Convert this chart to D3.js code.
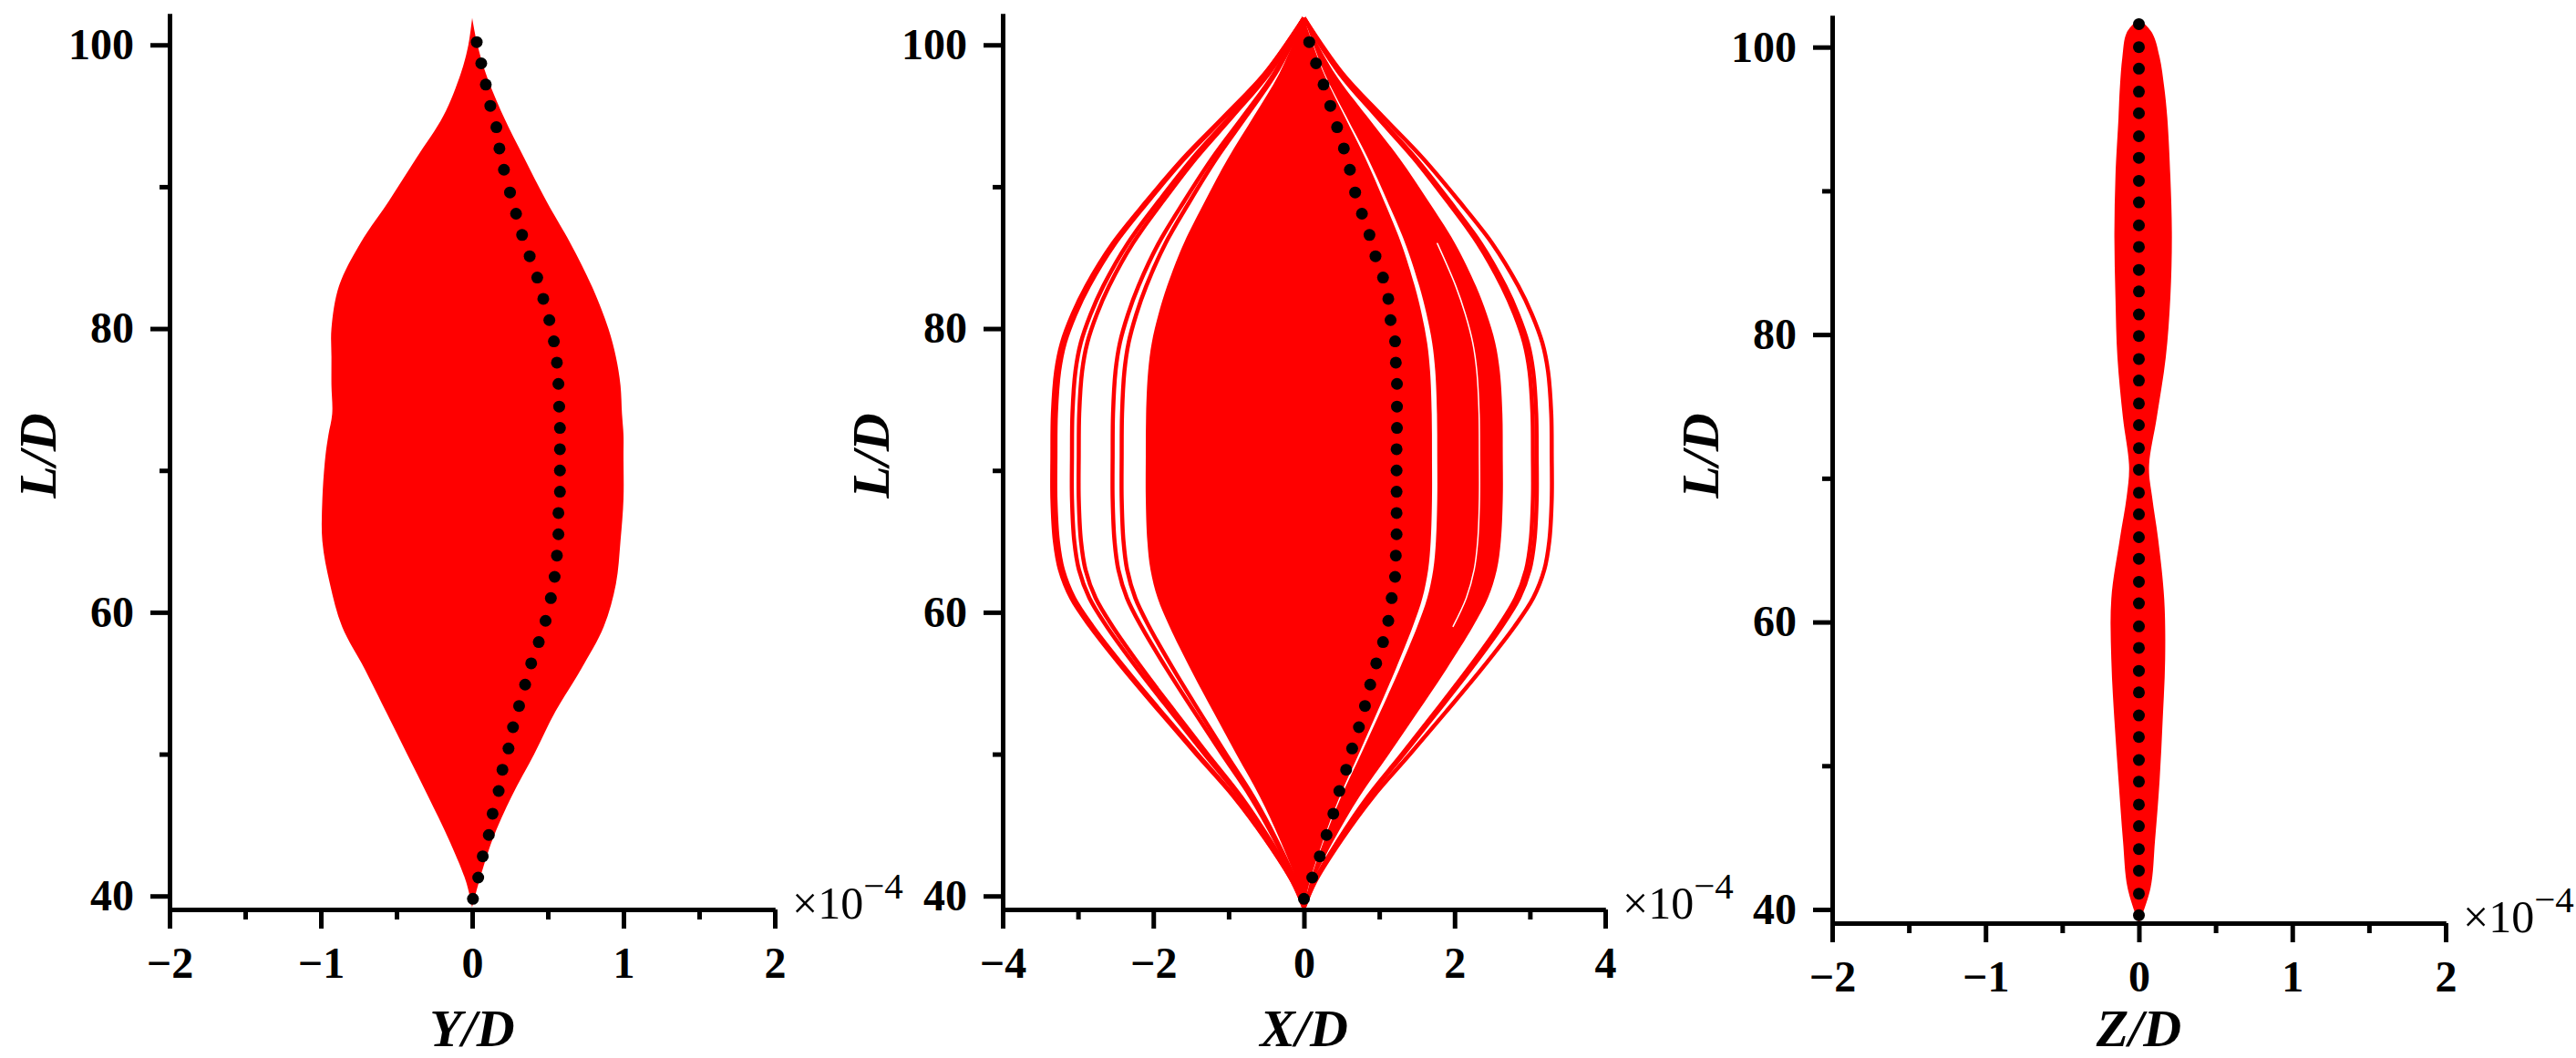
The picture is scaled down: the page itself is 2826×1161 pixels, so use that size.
<!DOCTYPE html>
<html>
<head>
<meta charset="UTF-8">
<title>beam_envelopes</title>

<style type="text/css">

	body { margin: 0; background: #fff; }

	.axis path, .axis line {
		stroke: #000;
		stroke-width: 5px;
	}

	.axis text {
		font-family: "Liberation Serif", "Times New Roman", serif;
		font-weight: bold;
		font-size: 48px;
		fill: #000;
	}

	.title {
		font-family: "Liberation Serif", "Times New Roman", serif;
		font-weight: bold;
		font-style: italic;
		font-size: 58px;
		fill: #000;
	}

	.mult {
		font-family: "Liberation Serif", "Times New Roman", serif;
		font-size: 50px;
		fill: #000;
	}

</style>

<script type="text/javascript" src="https://d3js.org/d3.v7.min.js" charset="utf-8"></script>

</head>
<body>

<div id="div_main"></div>

<script type="text/javascript">

	// ---- data (values in units of 1e-4, L/D) ----

	// Y/D panel: envelope of all red curves
	var yd_L   = [39.2, 41, 44, 47, 50, 53, 56, 59, 62, 65, 68, 71, 72.5, 74, 76, 78, 80, 83, 86, 89, 92, 95, 98, 100, 101.9];
	var yd_min = [0, -0.04, -0.155, -0.29, -0.43, -0.57, -0.71, -0.86, -0.94, -0.99, -0.99, -0.97, -0.95, -0.925, -0.93, -0.93, -0.93, -0.88, -0.74, -0.55, -0.37, -0.19, -0.075, -0.025, 0];
	var yd_max = [0, 0.045, 0.135, 0.26, 0.41, 0.55, 0.72, 0.87, 0.95, 0.98, 1.0, 1.0, 1.0, 0.99, 0.98, 0.95, 0.90, 0.79, 0.65, 0.49, 0.345, 0.205, 0.09, 0.035, 0];

	// X/D panel: common deflection shape (normalised) and the amplitudes of the curves
	var xd_L     = [39.2, 41, 44, 47, 50, 53, 56, 59, 61, 63, 65, 68, 71, 74, 77, 79, 81, 83, 86, 89, 92, 95, 98, 101.9];
	var xd_shape = [0, 0.045, 0.153, 0.279, 0.428, 0.574, 0.717, 0.85, 0.925, 0.97, 0.99, 1.0, 1.0, 0.998, 0.985, 0.962, 0.92, 0.865, 0.76, 0.625, 0.48, 0.315, 0.155, 0];
	var xd_core  = [-2.10, 1.70];          // dense bundle
	var xd_band  = [1.77, 2.64];           // second bundle on the right
	var xd_gap   = [2.33];                 // thin gap inside that bundle
	var xd_lines = [-3.34, -3.30, -3.08, -2.99, -2.54, -2.42, 3.04, 3.09, 3.29];

	// Z/D panel: envelope
	var zd_L   = [39.0, 41.5, 44.8, 49.0, 53.2, 57.4, 61.6, 65.8, 68.7, 70.8, 74.2, 78.4, 82.6, 86.8, 91.0, 95.1, 97.2, 99.3, 101.0, 102.0];
	var zd_min = [0, -0.074, -0.104, -0.133, -0.16, -0.18, -0.18, -0.124, -0.08, -0.064, -0.104, -0.14, -0.153, -0.16, -0.153, -0.133, -0.124, -0.108, -0.08, 0];
	var zd_max = [0, 0.076, 0.105, 0.135, 0.155, 0.171, 0.165, 0.125, 0.086, 0.066, 0.116, 0.175, 0.205, 0.215, 0.205, 0.185, 0.165, 0.135, 0.086, 0];

	// black dotted profiles
	var dot_L = [39.8, 41.3, 42.8, 44.3, 45.8, 47.4, 48.9, 50.4, 51.9, 53.4, 54.9, 56.4, 57.9, 59.4, 61.0, 62.5, 64.0, 65.5, 67.0, 68.5,
	             70.0, 71.5, 73.0, 74.5, 76.1, 77.6, 79.1, 80.6, 82.1, 83.6, 85.1, 86.6, 88.1, 89.6, 91.2, 92.7, 94.2, 95.7, 97.2, 98.7, 100.2];
	var dot_yd = [0.005, 0.04, 0.07, 0.11, 0.135, 0.175, 0.20, 0.24, 0.27, 0.31, 0.35, 0.39, 0.44, 0.485, 0.52, 0.545, 0.56, 0.57, 0.57, 0.58,
	              0.58, 0.58, 0.58, 0.575, 0.57, 0.56, 0.54, 0.51, 0.47, 0.43, 0.38, 0.33, 0.29, 0.25, 0.21, 0.18, 0.16, 0.12, 0.09, 0.06, 0.03];
	var dot_xd = [0.0, 0.11, 0.21, 0.30, 0.39, 0.47, 0.56, 0.64, 0.73, 0.81, 0.88, 0.96, 1.05, 1.12, 1.165, 1.21, 1.22, 1.23, 1.23, 1.23,
	              1.23, 1.23, 1.235, 1.235, 1.235, 1.22, 1.21, 1.15, 1.12, 1.05, 0.95, 0.87, 0.77, 0.68, 0.61, 0.53, 0.44, 0.35, 0.26, 0.16, 0.07];
	var dot_zL = [39.6, 41.1, 42.7, 44.2, 45.8, 47.3, 48.9, 50.4, 52.0, 53.5, 55.1, 56.6, 58.2, 59.7, 61.3, 62.8, 64.4, 65.9, 67.5, 69.0,
	              70.6, 72.1, 73.7, 75.2, 76.8, 78.3, 79.9, 81.4, 83.0, 84.5, 86.1, 87.6, 89.2, 90.7, 92.3, 93.8, 95.4, 96.9, 98.5, 100.0, 101.6];
	var dot_zd = [0, 0, 0, 0, 0, 0, 0, 0, 0, 0, 0, 0, 0, 0, 0, 0, 0, 0, 0, 0,
	              0, 0, 0, 0, 0, 0, 0, 0, 0, 0, 0, 0, 0, 0, 0, 0, 0, 0, 0, 0, 0];

	// axis ticks
	var yMajor = [40, 60, 80, 100];
	var yMinor = [50, 70, 90];
	var yDomain = [39.05, 102.2];

	var RED = "#ff0000";

	var svg = d3.select("#div_main")
				.append("svg")
					.attr("width", 2826)
					.attr("height", 1161);

	function makeScales(p) {
		var x = d3.scaleLinear().domain(p.xDomain).range(p.xRange);
		var y = d3.scaleLinear().domain(yDomain).range(p.yRange);
		return { x: x, y: y };
	}

	function drawArea(g, s, L, lo, hi) {
		var pts = L.map(function (d, i) { return { L: d, lo: lo[i], hi: hi[i] }; });
		var area = d3.area()
				.y(function (d) { return s.y(d.L); })
				.x0(function (d) { return s.x(d.lo); })
				.x1(function (d) { return s.x(d.hi); })
				.curve(d3.curveCatmullRom.alpha(0.5));
		g.append("path")
			.datum(pts)
			.attr("d", area)
			.attr("fill", RED);
	}

	function drawDots(g, s, L, v) {
		g.selectAll("circle.dot")
			.data(L.map(function (d, i) { return { L: d, v: v[i] }; }))
			.enter()
			.append("circle")
				.attr("class", "dot")
				.attr("cx", function (d) { return s.x(d.v); })
				.attr("cy", function (d) { return s.y(d.L); })
				.attr("r", 6.5)
				.attr("fill", "#000");
	}

	function drawAxes(p, s) {
		var x0 = s.x.range()[0], x1 = s.x.range()[1];
		var yb = s.y.range()[0];

		// y axis
		svg.append("g")
			.attr("class", "axis")
			.attr("transform", "translate(" + x0 + ",0)")
			.call(d3.axisLeft(s.y).tickValues(yMinor).tickSize(11).tickSizeOuter(0).tickFormat(""));
		svg.append("g")
			.attr("class", "axis")
			.attr("transform", "translate(" + x0 + ",0)")
			.call(d3.axisLeft(s.y).tickValues(yMajor).tickSize(21).tickSizeOuter(0).tickPadding(18).tickFormat(d3.format("d")));

		// x axis
		svg.append("g")
			.attr("class", "axis")
			.attr("transform", "translate(0," + yb + ")")
			.call(d3.axisBottom(s.x).tickValues(p.xMinor).tickSize(11).tickSizeOuter(0).tickFormat(""));
		svg.append("g")
			.attr("class", "axis")
			.attr("transform", "translate(0," + yb + ")")
			.call(d3.axisBottom(s.x).tickValues(p.xMajor).tickSize(21).tickSizeOuter(0).tickPadding(20).tickFormat(d3.format("d")));

		// titles
		svg.append("text")
			.attr("class", "title")
			.attr("x", (x0 + x1) / 2)
			.attr("y", 1148)
			.attr("text-anchor", "middle")
			.text(p.title);

		svg.append("text")
			.attr("class", "title")
			.attr("text-anchor", "middle")
			.attr("transform", "translate(" + (x0 - 125) + ",500) rotate(-90)")
			.text("L/D");

		// multiplier
		var m = svg.append("text")
			.attr("class", "mult")
			.attr("x", x1 + 19)
			.attr("y", yb + 10);
		m.append("tspan").text("\u00d710");
		m.append("tspan").attr("dy", -22).style("font-size", "41px").text("\u22124");
	}

	var panels = [
		{ xDomain: [-2, 2], xRange: [186, 850],   yRange: [998, 15],  xMajor: [-2, -1, 0, 1, 2], xMinor: [-1.5, -0.5, 0.5, 1.5], title: "Y/D" },
		{ xDomain: [-4, 4], xRange: [1100, 1761], yRange: [998, 15],  xMajor: [-4, -2, 0, 2, 4], xMinor: [-3, -1, 1, 3],         title: "X/D" },
		{ xDomain: [-2, 2], xRange: [2010, 2683], yRange: [1013, 17], xMajor: [-2, -1, 0, 1, 2], xMinor: [-1.5, -0.5, 0.5, 1.5], title: "Z/D" }
	];

	// ---- panel 1: Y/D ----
	var s1 = makeScales(panels[0]);
	var g1 = svg.append("g");
	drawArea(g1, s1, yd_L, yd_min, yd_max);
	drawDots(g1, s1, dot_L, dot_yd);
	drawAxes(panels[0], s1);

	// ---- panel 2: X/D ----
	var s2 = makeScales(panels[1]);
	var g2 = svg.append("g");
	function scaled(a) { return xd_shape.map(function (v) { return a * v; }); }

	drawArea(g2, s2, xd_L, scaled(xd_core[0]), scaled(xd_core[1]));
	drawArea(g2, s2, xd_L, scaled(xd_band[0]), scaled(xd_band[1]));

	var line2 = d3.line()
			.y(function (d) { return s2.y(d.L); })
			.x(function (d) { return s2.x(d.v); })
			.curve(d3.curveCatmullRom.alpha(0.5));

	g2.selectAll("path.curve")
		.data(xd_lines)
		.enter()
		.append("path")
			.attr("class", "curve")
			.attr("d", function (a) { return line2(xd_L.map(function (L, i) { return { L: L, v: a * xd_shape[i] }; })); })
			.attr("fill", "none")
			.attr("stroke", RED)
			.attr("stroke-width", 4.5);

	g2.selectAll("path.gap")
		.data(xd_gap)
		.enter()
		.append("path")
			.attr("class", "gap")
			.attr("d", function (a) {
				var pts = xd_L.map(function (L, i) { return { L: L, v: a * xd_shape[i] }; })
							  .filter(function (d) { return d.L >= 59 && d.L <= 86; });
				return line2(pts);
			})
			.attr("fill", "none")
			.attr("stroke", "#fff")
			.attr("stroke-width", 1.5)
			.attr("stroke-linecap", "round");

	drawDots(g2, s2, dot_L, dot_xd);
	drawAxes(panels[1], s2);

	// ---- panel 3: Z/D ----
	var s3 = makeScales(panels[2]);
	var g3 = svg.append("g");
	drawArea(g3, s3, zd_L, zd_min, zd_max);
	drawDots(g3, s3, dot_zL, dot_zd);
	drawAxes(panels[2], s3);

</script>

</body>
</html>
